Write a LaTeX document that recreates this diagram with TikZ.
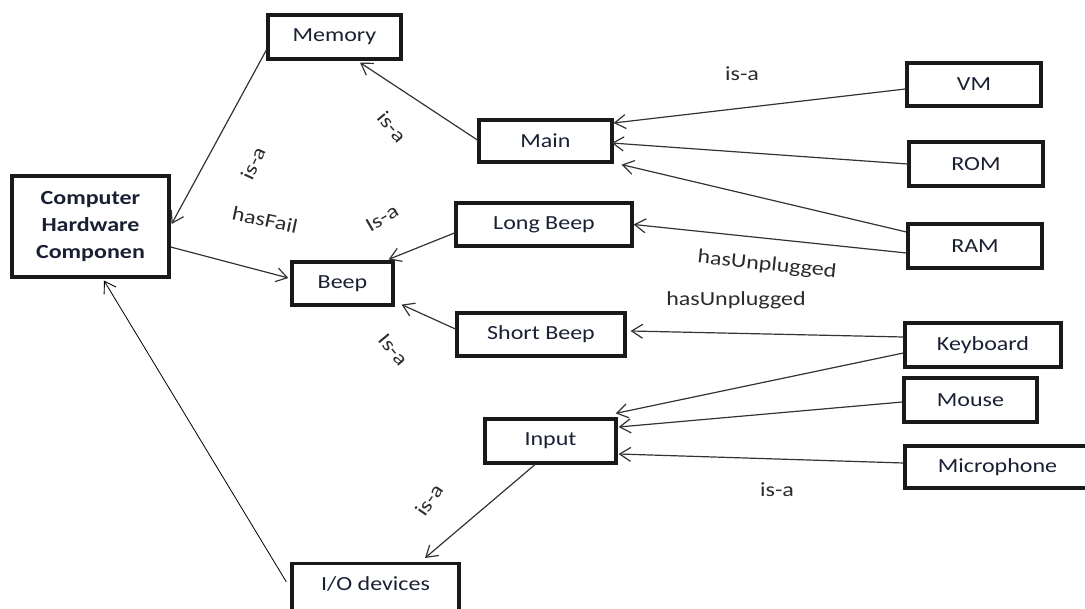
\documentclass[tikz,border=0pt]{standalone}
\usepackage{fontspec}
\setmainfont{Carlito}[FakeStretch=1.2]
\usetikzlibrary{arrows.meta}
\definecolor{txt}{HTML}{1A2033}
\definecolor{ln}{HTML}{333333}
\definecolor{lbltxt}{HTML}{2B2B2B}
\begin{document}
\begin{tikzpicture}[x=1pt,y=-1pt,
  box/.style={draw=black!90, line width=3.2pt, inner sep=0pt, text=txt,
    font=\fontsize{20}{27}\selectfont},
  conn/.style={draw=ln, line width=1.2pt,
    -{Straight Barb[length=11pt,width=14pt,line width=1.2pt]}},
  thinconn/.style={draw=black, line width=0.8pt,
    -{Straight Barb[length=11pt,width=14pt,line width=0.9pt]}},
  lbl/.style={text=lbltxt, inner sep=0pt, font=\fontsize{20}{24}\selectfont}]
\useasboundingbox (0,0) rectangle (1085,609);
\clip (0,0) rectangle (1085,609);

% nodes
\node[box, minimum width=133pt, minimum height=44pt] (mem) at (334.5,37) {Memory};
\node[box, minimum width=133pt, minimum height=42pt] (main) at (545.5,141) {Main};
\node[box, minimum width=134pt, minimum height=43pt] (vm) at (974,84.5) {VM};
\node[box, minimum width=134pt, minimum height=44pt] (rom) at (976,164) {ROM};
\node[box, minimum width=134pt, minimum height=44pt] (ram) at (975,246) {RAM};
\node[box, minimum width=176pt, minimum height=43pt] (lbeep) at (544,224.5) {Long Beep};
\node[box, minimum width=101pt, minimum height=43pt] (beep) at (342.5,283.5) {Beep};
\node[box, minimum width=168pt, minimum height=43pt] (sbeep) at (541,334.5) {Short Beep};
\node[box, minimum width=156pt, minimum height=44pt] (kb) at (983,345) {Keyboard};
\node[box, minimum width=133pt, minimum height=44pt] (mouse) at (970.5,400) {Mouse};
\node[box, minimum width=185pt, minimum height=42pt] (mic) at (997.5,467) {Microphone};
\node[box, minimum width=131pt, minimum height=44pt] (input) at (550.5,441) {Input};
\node[box, minimum width=157pt, minimum height=101pt, align=center,
  font=\fontsize{20}{27}\selectfont\bfseries] (chc) at (90.5,226.5)
  {Computer\\Hardware\\Componen};
\node[box, anchor=north, minimum width=167pt, inner ysep=0pt,
  text height=27pt, text depth=40pt] (io) at (375.5,562) {I/O devices};

% connectors
\draw[conn] ([yshift=-13pt]mem.west) -- ([xshift=1pt,yshift=2.5pt]chc.east);
\draw[conn] ([yshift=1pt]main.west) -- ([xshift=25.5pt,yshift=-2pt]mem.south);
\draw[conn] ([yshift=-20.5pt]chc.east) -- ([xshift=-2pt,yshift=5.5pt]beep.west);
\draw[conn] ([yshift=-8.5pt]lbeep.west) -- ([xshift=-6pt,yshift=1pt]beep.north east);
\draw[conn] ([yshift=5.5pt]sbeep.west) -- ([xshift=7pt,yshift=2pt]beep.south east);
\draw[conn] ([yshift=-4.5pt]vm.west) -- ([yshift=18pt]main.east);
\draw[conn] (rom.west) -- ([xshift=-2pt,yshift=-2pt]main.east);
\draw[conn] ([yshift=14pt]ram.west) -- ([xshift=8pt,yshift=-1pt]main.south east);
\draw[conn] ([yshift=-7pt]ram.west) -- (lbeep.east);
\draw[conn] ([yshift=8pt]kb.west) -- ([xshift=4pt,yshift=3.5pt]sbeep.east);
\draw[conn] ([yshift=-8pt]kb.west) -- ([xshift=-2pt,yshift=4pt]input.north east);
\draw[conn] ([yshift=-2pt]mouse.west) -- ([xshift=1pt,yshift=14pt]input.east);
\draw[conn] ([yshift=4pt]mic.west) -- ([xshift=1pt,yshift=-13pt]input.east);
\draw[conn] ([xshift=-15.5pt]input.south) -- ([xshift=49.5pt,yshift=4pt]io.north);
\draw[thinconn] ([xshift=-4pt,yshift=-20pt]io.north west) -- ([xshift=13.5pt,yshift=-2pt]chc.south);

% labels
\node[lbl] (l1) at (742,74) {is-a};
\node[lbl, rotate=65] (l2) at (253,163) {is-a};
\node[lbl, rotate=-50] (l3) at (392,127) {is-a};
\node[lbl, rotate=-12] (l4) at (265,220) {hasFail};
\node[lbl, rotate=30] (l5) at (382,218) {Is-a};
\node[lbl, rotate=-6] (l6) at (767,265) {hasUnplugged};
\node[lbl] (l7) at (736,300) {hasUnplugged};
\node[lbl, rotate=-50] (l8) at (393,350) {Is-a};
\node[lbl, rotate=55] (l9) at (429,500) {is-a};
\node[lbl] (l10) at (777,490) {is-a};
\end{tikzpicture}
\end{document}
